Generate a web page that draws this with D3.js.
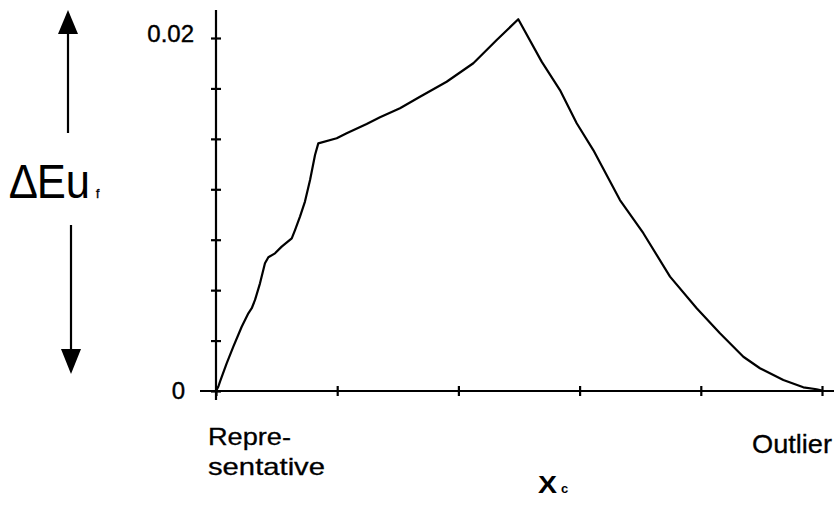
<!DOCTYPE html>
<html>
<head>
<meta charset="utf-8">
<title>Delta Eu_f vs X_c</title>
<style>
  body { margin: 0; background: #fff; }
  svg { display: block; }
  text { font-family: 'Liberation Sans', Arial, Helvetica, sans-serif; fill: #000; }
</style>
<script src="https://d3js.org/d3.v7.min.js"></script>
</head>
<body>
<div id="chart"></div>
<script>
// ******* Data *******
// x runs from the representative end (0) to the outlier end (5 tick steps)
const xValues = [0, 0.019, 0.033, 0.088, 0.143, 0.212, 0.267, 0.295, 0.322, 0.363,
  0.404, 0.432, 0.487, 0.542, 0.625, 0.652, 0.693, 0.734, 0.776, 0.817,
  0.844, 0.996, 1.078, 1.243, 1.353, 1.518, 1.683, 1.903, 2.123, 2.316,
  2.494, 2.687, 2.838, 2.976, 3.113, 3.333, 3.526, 3.746, 3.966, 4.158,
  4.351, 4.488, 4.681, 4.846, 4.956, 5.0];
const yValues = [0, 0.00024, 0.00053, 0.00157, 0.00251, 0.00364, 0.00440, 0.00469, 0.00516, 0.00610,
  0.00724, 0.00758, 0.00780, 0.00818, 0.00865, 0.00912, 0.00988, 0.01073, 0.01195, 0.01337,
  0.01403, 0.01432, 0.01460, 0.01513, 0.01551, 0.01602, 0.01667, 0.01752, 0.01857, 0.01989,
  0.02106, 0.01866, 0.01705, 0.01517, 0.01365, 0.01082, 0.00894, 0.00648, 0.00469, 0.00327,
  0.00194, 0.00129, 0.00062, 0.00021, 0.00010, 0.00003];

const xTickValues = [0, 1, 2, 3, 4, 5];
const yTickValues = [0, 0.02 / 7, 0.04 / 7, 0.06 / 7, 0.08 / 7, 0.10 / 7, 0.12 / 7, 0.02];
const yTickLabels = [{v: 0, text: "0"}, {v: 0.02, text: "0.02"}];

const width = 834, height = 508;

// ******* Scales *******
const x = d3.scaleLinear().domain([0, 5]).range([216, 822]);
const y = d3.scaleLinear().domain([0, 0.02]).range([391, 38]);

const svg = d3.select("#chart").append("svg")
    .attr("width", width)
    .attr("height", height);

// squeeze/stretch a text horizontally so it spans w pixels
function fitText(sel, x0, y0, w) {
  const natural = sel.node().getComputedTextLength();
  sel.attr("transform", `translate(${x0},${y0}) scale(${w / natural},1)`);
}

// ******* Axes *******
// y axis line runs a bit past 0.02 and a bit below 0
svg.append("line")
    .attr("x1", x(0)).attr("x2", x(0))
    .attr("y1", 10).attr("y2", 400)
    .attr("stroke", "#000").attr("stroke-width", 2.2);

svg.append("line")
    .attr("x1", 200).attr("x2", width)
    .attr("y1", y(0)).attr("y2", y(0))
    .attr("stroke", "#000").attr("stroke-width", 2.2);

const yAxis = svg.append("g")
    .attr("transform", `translate(${x(0)},0)`)
    .call(d3.axisLeft(y).tickValues(yTickValues).tickFormat("").tickSizeOuter(0));
yAxis.select(".domain").remove();
yAxis.selectAll(".tick line")
    .attr("x1", -5).attr("x2", 5)
    .attr("stroke", "#000").attr("stroke-width", 2.2);

const xAxis = svg.append("g")
    .attr("transform", `translate(0,${y(0)})`)
    .call(d3.axisBottom(x).tickValues(xTickValues).tickFormat("").tickSizeOuter(0));
xAxis.select(".domain").remove();
xAxis.selectAll(".tick line")
    .attr("y1", -5).attr("y2", 5)
    .attr("stroke", "#000").attr("stroke-width", 2.2);

// y tick labels, only at 0 and 0.02
svg.selectAll(".ylab")
    .data(yTickLabels)
    .enter().append("text")
    .attr("class", "ylab")
    .attr("x", d => d.v === 0 ? 185 : 194)
    .attr("y", d => y(d.v) + (d.v === 0 ? 8 : 4))
    .attr("text-anchor", "end")
    .attr("font-size", 24)
    .attr("stroke", "#000").attr("stroke-width", 0.4)
    .text(d => d.text);

// ******* Curve *******
const pts = xValues.map((v, i) => [v, yValues[i]]);
svg.append("path")
    .datum(pts)
    .attr("fill", "none")
    .attr("stroke", "#000")
    .attr("stroke-width", 2.2)
    .attr("stroke-linejoin", "round")
    .attr("d", d3.line().x(d => x(d[0])).y(d => y(d[1])));

// ******* Category labels on x *******
svg.append("text").attr("x", 208).attr("y", 445)
    .attr("font-size", 24).attr("textLength", 83).attr("lengthAdjust", "spacingAndGlyphs")
    .attr("stroke", "#000").attr("stroke-width", 0.3)
    .text("Repre-");
svg.append("text").attr("x", 208).attr("y", 475)
    .attr("font-size", 24).attr("textLength", 117).attr("lengthAdjust", "spacingAndGlyphs")
    .attr("stroke", "#000").attr("stroke-width", 0.3)
    .text("sentative");
svg.append("text").attr("x", 752).attr("y", 453)
    .attr("font-size", 25).attr("textLength", 80).attr("lengthAdjust", "spacingAndGlyphs")
    .attr("stroke", "#000").attr("stroke-width", 0.3)
    .text("Outlier");

// X_c axis title
svg.append("text").attr("x", 538).attr("y", 493)
    .attr("font-size", 23).attr("font-weight", "bold")
    .attr("textLength", 19).attr("lengthAdjust", "spacingAndGlyphs")
    .text("X");
svg.append("text").attr("x", 561).attr("y", 493)
    .attr("font-size", 13).attr("font-weight", "bold")
    .text("c");

// ******* Y title with arrows *******
const dEu = svg.append("text")
    .attr("font-size", 48)
    .text("\u2206Eu");
fitText(dEu, 10, 198, 80);
svg.append("text").attr("x", 96).attr("y", 198)
    .attr("font-size", 12)
    .attr("stroke", "#000").attr("stroke-width", 0.4)
    .text("f");

// up arrow
svg.append("line").attr("x1", 68).attr("x2", 68).attr("y1", 30).attr("y2", 133)
    .attr("stroke", "#000").attr("stroke-width", 2.2);
svg.append("path").attr("d", "M68,10L58,34L78,34Z").attr("fill", "#000");
// down arrow
svg.append("line").attr("x1", 71).attr("x2", 71).attr("y1", 225).attr("y2", 352)
    .attr("stroke", "#000").attr("stroke-width", 2.2);
svg.append("path").attr("d", "M71,374L61,349L81,349Z").attr("fill", "#000");
</script>
</body>
</html>
